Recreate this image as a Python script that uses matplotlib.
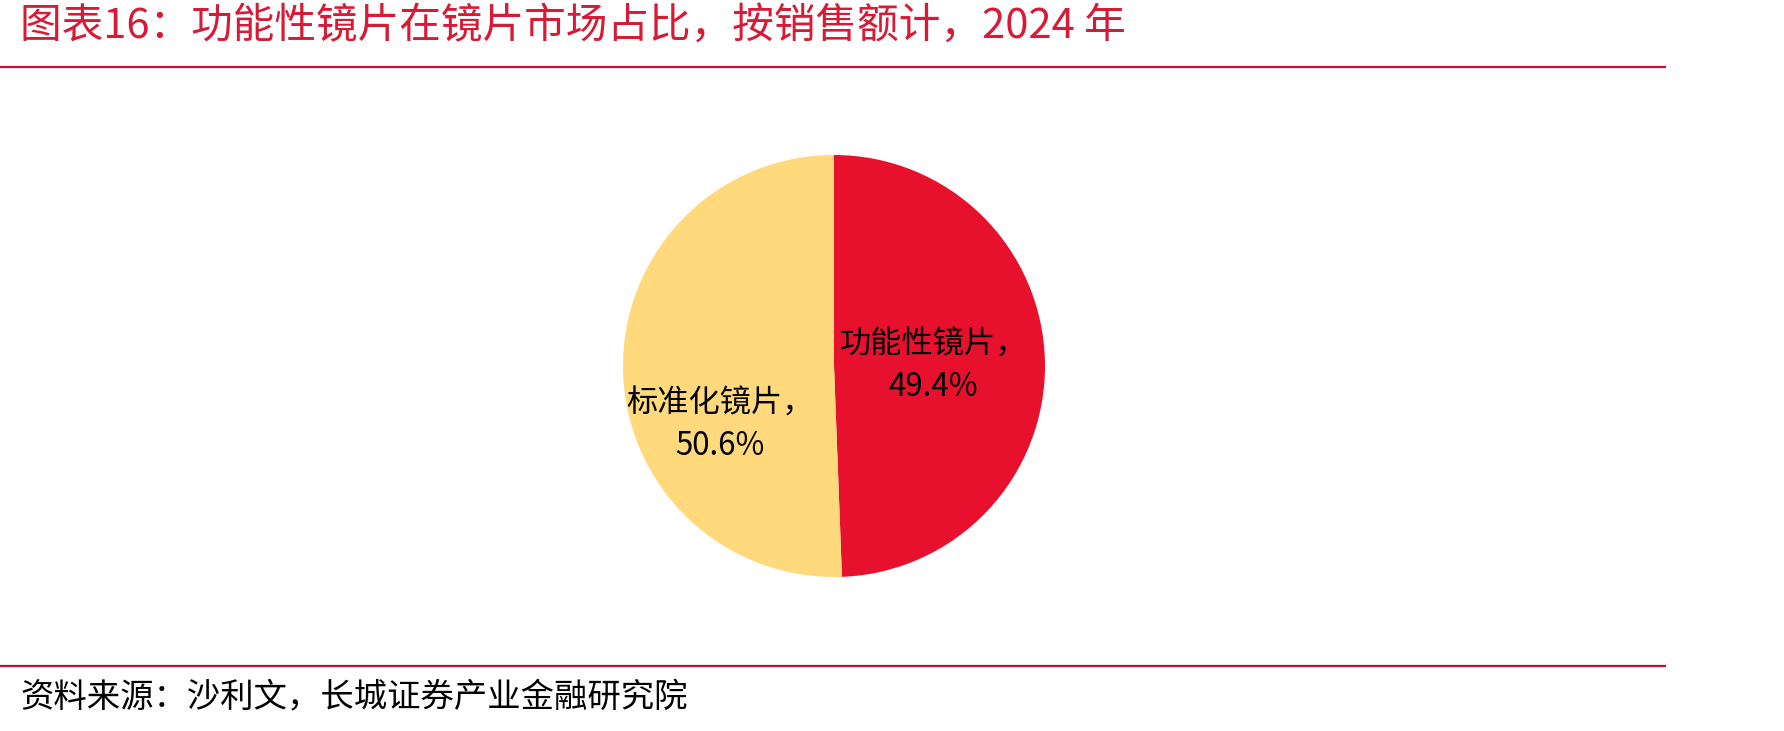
import matplotlib
matplotlib.use("Agg")
import matplotlib.pyplot as plt

plt.rcParams['font.family'] = ['Noto Sans CJK SC', 'DejaVu Sans']

# 数据
categorias = ['功能性镜片', '标准化镜片']
porcentajes = [49.4, 50.6]
colores = ['#E8112D', '#FFD97C']

titulo = '图表16：功能性镜片在镜片市场占比，按销售额计，2024 年'
fuente = '资料来源：沙利文，长城证券产业金融研究院'

W, H = 1784, 731
fig = plt.figure(figsize=(W / 100, H / 100), dpi=100)
fig.patch.set_facecolor('white')

# titulo y lineas
fig.text(20 / W, 1 - 26 / H, titulo, color='#D71A35', fontsize=30,
         fontstyle='italic', ha='left', va='center')
fig.add_artist(plt.Line2D([0, 1665 / W], [1 - 67 / H, 1 - 67 / H],
                          color='#C8102E', lw=1.6))
fig.add_artist(plt.Line2D([0, 1665 / W], [1 - 666 / H, 1 - 666 / H],
                          color='#C8102E', lw=1.6))
fig.text(20 / W, 1 - 698 / H, fuente, color='black', fontsize=24,
         fontstyle='italic', ha='left', va='center')

# pastel
cx, cy, r = 834, 366, 211
ax = fig.add_axes([(cx - r) / W, (H - cy - r) / H, 2 * r / W, 2 * r / H])
etiquetas = [f'{c}，\n{p}%' for c, p in zip(categorias, porcentajes)]
wedges, textos = ax.pie(porcentajes, colors=colores, startangle=90,
                        counterclock=False, labels=etiquetas,
                        labeldistance=0.5,
                        wedgeprops=dict(linewidth=0))
for t in textos:
    t.set_fontsize(22.5)
    t.set_ha('center')
    t.set_va('center')
    t.set_linespacing(1.4)
x0, y0 = textos[1].get_position()
textos[1].set_position((x0 - 0.04, y0 - 0.27))
x0, y0 = textos[0].get_position()
textos[0].set_position((x0 - 0.03, y0 - 0.01))
ax.set_xlim(-1, 1)
ax.set_ylim(-1, 1)
ax.axis('off')

fig.savefig('out.png', dpi=100)
